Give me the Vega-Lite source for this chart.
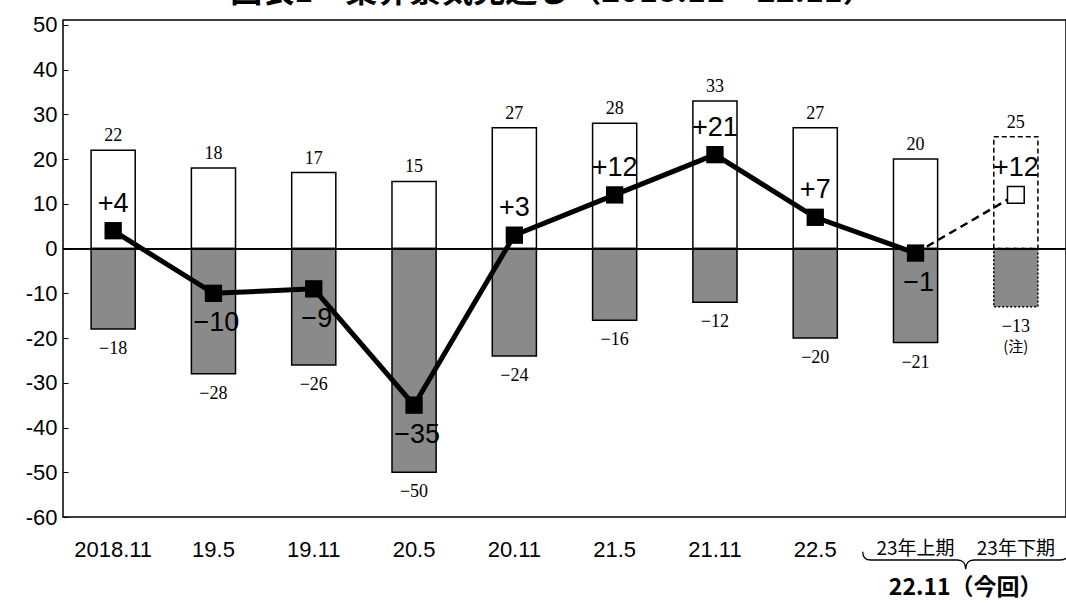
{
  "$schema": "https://vega.github.io/schema/vega-lite/v6.json",
  "width": 1003,
  "height": 497,
  "autosize": {"type": "none"},
  "padding": {"left": 63, "top": 20, "right": 0, "bottom": 86},
  "background": "white",
  "title": {
    "text": "図表1　業界景気見通し（2018.11～22.11）",
    "font": "Noto Sans CJK JP",
    "fontSize": 32,
    "fontWeight": "bold",
    "color": "black",
    "anchor": "middle",
    "frame": "group",
    "baseline": "alphabetic",
    "offset": 0,
    "dy": 20,
    "dx": -12
  },
  "config": {
    "view": {"stroke": "black", "strokeWidth": 1.5},
    "axis": {"grid": false}
  },
  "data": {
    "values": [
      {"cat": "2018.11", "pos": 22, "neg": -18, "net": 4},
      {"cat": "19.5", "pos": 18, "neg": -28, "net": -10},
      {"cat": "19.11", "pos": 17, "neg": -26, "net": -9},
      {"cat": "20.5", "pos": 15, "neg": -50, "net": -35},
      {"cat": "20.11", "pos": 27, "neg": -24, "net": 3},
      {"cat": "21.5", "pos": 28, "neg": -16, "net": 12},
      {"cat": "21.11", "pos": 33, "neg": -12, "net": 21},
      {"cat": "22.5", "pos": 27, "neg": -20, "net": 7},
      {"cat": "23年上期", "pos": 20, "neg": -21, "net": -1},
      {"cat": "23年下期", "pos": 25, "neg": -13, "net": 12}
    ]
  },
  "layer": [
    {
      "mark": {"type": "bar", "fill": "white", "stroke": "black", "strokeWidth": 1.5, "width": {"band": 0.44}},
      "encoding": {
        "x": {
          "field": "cat", "type": "nominal", "sort": null,
          "scale": {"paddingInner": 0, "paddingOuter": 0},
          "axis": {
            "title": null, "labelAngle": 0, "ticks": false, "domain": false,
            "labelPadding": 22, "labelColor": "black",
            "labelFont": {"expr": "indexof(datum.value, '年') >= 0 ? 'Noto Sans CJK JP' : 'Liberation Sans'"},
            "labelFontSize": {"expr": "indexof(datum.value, '年') >= 0 ? 19 : 22"}
          }
        },
        "y": {
          "field": "pos", "type": "quantitative",
          "scale": {"domain": [-60, 51.1], "nice": false, "zero": false},
          "axis": {
            "title": null, "values": [-60, -50, -40, -30, -20, -10, 0, 10, 20, 30, 40, 50],
            "labelExpr": "replace(datum.label, '−', '-')",
            "domain": false, "tickColor": "black", "tickSize": -5, "tickOffset": 0,
            "labelFont": "Liberation Sans", "labelFontSize": 22, "labelColor": "black", "labelPadding": 11
          }
        },
        "y2": {"datum": 0},
        "strokeDash": {"condition": {"test": "datum.cat === '23年下期'", "value": [5, 3]}, "value": [1, 0]}
      }
    },
    {
      "mark": {"type": "bar", "fill": "#8a8a8a", "stroke": "black", "strokeWidth": 1.5, "width": {"band": 0.44}},
      "encoding": {
        "x": {"field": "cat", "type": "nominal", "sort": null},
        "y": {"field": "neg", "type": "quantitative"},
        "y2": {"datum": 0},
        "strokeDash": {"condition": {"test": "datum.cat === '23年下期'", "value": [2, 2]}, "value": [1, 0]}
      }
    },
    {
      "mark": {"type": "rule", "color": "black", "strokeWidth": 1.3},
      "encoding": {"y": {"datum": 0}}
    },
    {
      "transform": [{"filter": "datum.cat !== '23年下期'"}],
      "mark": {"type": "line", "color": "black", "strokeWidth": 5},
      "encoding": {
        "x": {"field": "cat", "type": "nominal", "sort": null},
        "y": {"field": "net", "type": "quantitative"}
      }
    },
    {
      "transform": [{"filter": "datum.cat === '23年上期' || datum.cat === '23年下期'"}],
      "mark": {"type": "line", "color": "black", "strokeWidth": 2.5, "strokeDash": [8, 5]},
      "encoding": {
        "x": {"field": "cat", "type": "nominal", "sort": null},
        "y": {"field": "net", "type": "quantitative"}
      }
    },
    {
      "transform": [{"filter": "datum.cat !== '23年下期'"}],
      "mark": {"type": "point", "shape": "square", "filled": true, "color": "black", "opacity": 1, "size": 300},
      "encoding": {
        "x": {"field": "cat", "type": "nominal", "sort": null},
        "y": {"field": "net", "type": "quantitative"}
      }
    },
    {
      "transform": [{"filter": "datum.cat === '23年下期'"}],
      "mark": {"type": "point", "shape": "square", "filled": true, "fill": "white", "stroke": "black", "strokeWidth": 1.5, "opacity": 1, "size": 280},
      "encoding": {
        "x": {"field": "cat", "type": "nominal", "sort": null},
        "y": {"field": "net", "type": "quantitative"}
      }
    },
    {
      "mark": {"type": "text", "font": "Liberation Serif", "fontSize": 18, "color": "black", "baseline": "alphabetic", "dy": -9},
      "encoding": {
        "x": {"field": "cat", "type": "nominal", "sort": null},
        "y": {"field": "pos", "type": "quantitative"},
        "text": {"field": "pos", "type": "quantitative", "format": "d"}
      }
    },
    {
      "mark": {"type": "text", "font": "Liberation Serif", "fontSize": 18, "color": "black", "baseline": "top", "dy": 11},
      "encoding": {
        "x": {"field": "cat", "type": "nominal", "sort": null},
        "y": {"field": "neg", "type": "quantitative"},
        "text": {"field": "neg", "type": "quantitative", "format": "d"}
      }
    },
    {
      "transform": [{"filter": "datum.cat === '23年下期'"}],
      "mark": {"type": "text", "font": "Noto Sans CJK JP", "fontSize": 15, "color": "black", "baseline": "top", "dy": 33, "text": "(注)"},
      "encoding": {
        "x": {"field": "cat", "type": "nominal", "sort": null},
        "y": {"field": "neg", "type": "quantitative"}
      }
    },
    {
      "transform": [{"filter": "datum.net >= 0"}],
      "mark": {"type": "text", "font": "Liberation Sans Narrow, Liberation Sans", "fontSize": 27, "color": "black", "baseline": "alphabetic", "dy": -19},
      "encoding": {
        "x": {"field": "cat", "type": "nominal", "sort": null},
        "y": {"field": "net", "type": "quantitative"},
        "text": {"field": "net", "type": "quantitative", "format": "+d"}
      }
    },
    {
      "transform": [{"filter": "datum.net < 0"}],
      "mark": {"type": "text", "font": "Liberation Sans Narrow, Liberation Sans", "fontSize": 27, "color": "black", "baseline": "top", "dy": 17, "dx": 3},
      "encoding": {
        "x": {"field": "cat", "type": "nominal", "sort": null},
        "y": {"field": "net", "type": "quantitative"},
        "text": {"field": "net", "type": "quantitative", "format": "d"}
      }
    },
    {
      "transform": [{"filter": "datum.cat === '23年下期'"}],
      "mark": {
        "type": "point",
        "shape": "M -1 -0.08 Q -1 0 -0.92 0 L -0.08 0 Q 0 0 0 0.09 Q 0 0 0.08 0 L 0.92 0 Q 1 0 1 -0.08",
        "filled": false, "stroke": "black", "strokeWidth": 1.3, "opacity": 1,
        "size": 42436, "yOffset": 43
      },
      "encoding": {
        "x": {"field": "cat", "type": "nominal", "sort": null, "bandPosition": 0},
        "y": {"datum": -60}
      }
    },
    {
      "transform": [{"filter": "datum.cat === '23年下期'"}],
      "mark": {"type": "text", "font": "Noto Sans CJK JP", "fontSize": 23, "fontWeight": "bold", "color": "black", "baseline": "middle", "dy": 71, "text": "22.11（今回）"},
      "encoding": {
        "x": {"field": "cat", "type": "nominal", "sort": null, "bandPosition": 0},
        "y": {"datum": -60}
      }
    }
  ]
}
